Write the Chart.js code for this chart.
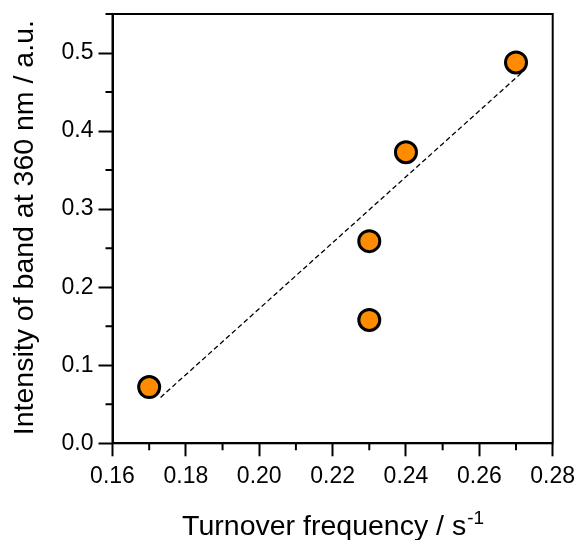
<!DOCTYPE html>
<html>
<head>
<meta charset="utf-8">
<style>
  html, body { margin: 0; padding: 0; background: #ffffff; }
  canvas { display: block; }
</style>
<script src="https://cdn.jsdelivr.net/npm/chart.js@4/dist/chart.umd.min.js"></script>
</head>
<body>
<canvas id="c" width="576" height="540"></canvas>
<script>
// ---- data ----
const turnoverFrequency = [0.17, 0.23, 0.23, 0.24, 0.27];
const bandIntensity     = [0.072, 0.259, 0.158, 0.373, 0.488];
const fitX = [0.1731, 0.2716];
const fitY = [0.0588, 0.475];
const xTitle = 'Turnover frequency / s';
const xTitleSup = '-1';
const yTitle = 'Intensity of band at 360 nm / a.u.';
const xRange = [0.16, 0.28], xStep = 0.02;
const yRange = [0.0, 0.55], yStep = 0.1;

const FONT = '"Liberation Sans", Arial, sans-serif';

const points = turnoverFrequency.map((x, i) => ({ x: x, y: bandIntensity[i] }));
const fitLine = fitX.map((x, i) => ({ x: x, y: fitY[i] }));

const framePlugin = {
  id: 'frameAndTitles',
  beforeDatasetsDraw(chart) {
    const ctx = chart.ctx, a = chart.chartArea;
    ctx.save();
    ctx.strokeStyle = '#000';
    ctx.lineWidth = 2;
    ctx.strokeRect(a.left, a.top, a.right - a.left, a.bottom - a.top);
    // minor ticks
    const minor = (scale, horizontal) => {
      const t = scale.ticks.map(k => k.value);
      const vals = [];
      for (let i = 0; i < t.length - 1; i++) vals.push((t[i] + t[i + 1]) / 2);
      const step = t[1] - t[0];
      const after = t[t.length - 1] + step / 2;
      if (after <= scale.max + 1e-9) vals.push(after);
      ctx.beginPath();
      vals.forEach(v => {
        const p = scale.getPixelForValue(v);
        if (horizontal) { ctx.moveTo(p, a.bottom); ctx.lineTo(p, a.bottom + 7); }
        else { ctx.moveTo(a.left, p); ctx.lineTo(a.left - 7, p); }
      });
      ctx.stroke();
    };
    minor(chart.scales.x, true);
    minor(chart.scales.y, false);
    ctx.restore();
  },
  afterDraw(chart) {
    const ctx = chart.ctx, a = chart.chartArea;
    ctx.save();
    ctx.fillStyle = '#000';
    // x title with superscript
    const mainFont = '28.5px ' + FONT, supFont = '19px ' + FONT;
    ctx.font = mainFont;
    const w1 = ctx.measureText(xTitle).width;
    ctx.font = supFont;
    const w2 = ctx.measureText(xTitleSup).width;
    const cx = (a.left + a.right) / 2;
    let sx = cx - (w1 + w2) / 2;
    ctx.textBaseline = 'alphabetic';
    ctx.textAlign = 'left';
    ctx.font = mainFont;
    ctx.fillText(xTitle, sx, 535);
    ctx.font = supFont;
    ctx.fillText(xTitleSup, sx + w1 + 1, 523.5);
    // y title
    ctx.translate(33.3, (a.top + a.bottom) / 2 - 1);
    ctx.rotate(-Math.PI / 2);
    ctx.font = mainFont;
    ctx.textAlign = 'center';
    ctx.fillText(yTitle, 0, 0);
    ctx.restore();
  }
};

new Chart(document.getElementById('c'), {
  type: 'scatter',
  data: {
    datasets: [
      {
        label: 'data',
        data: points,
        order: 0,
        pointRadius: 10.5,
        pointHoverRadius: 10.5,
        pointBackgroundColor: '#FF8C00',
        pointBorderColor: '#000000',
        pointBorderWidth: 3,
        showLine: false
      },
      {
        label: 'fit',
        data: fitLine,
        order: 1,
        showLine: true,
        pointRadius: 0,
        borderColor: '#000000',
        borderWidth: 1.3,
        borderDash: [5, 3],
        fill: false
      }
    ]
  },
  options: {
    responsive: false,
    devicePixelRatio: 1,
    animation: false,
    layout: { padding: { left: 0, top: 14, right: 23.3, bottom: 0 } },
    plugins: { legend: { display: false }, tooltip: { enabled: false } },
    scales: {
      x: {
        type: 'linear',
        min: xRange[0], max: xRange[1],
        afterFit(scale) {
          scale.height = 540 - 443.3;
          scale.paddingLeft = 0; scale.paddingRight = 0;
        },
        border: { display: true, color: '#000', width: 2 },
        grid: { display: true, drawOnChartArea: false, drawTicks: true, tickLength: 13, tickColor: '#000', tickWidth: 2 },
        ticks: {
          stepSize: xStep,
          color: '#000',
          padding: 6.5,
          maxRotation: 0,
          font: { family: FONT, size: 23 },
          callback: v => Number(v).toFixed(2)
        },
        title: { display: false }
      },
      y: {
        type: 'linear',
        min: yRange[0], max: yRange[1],
        afterFit(scale) {
          scale.width = 112.5;
          scale.paddingTop = 0; scale.paddingBottom = 0;
        },
        border: { display: true, color: '#000', width: 2 },
        grid: { display: true, drawOnChartArea: false, drawTicks: true, tickLength: 14, tickColor: '#000', tickWidth: 2 },
        ticks: {
          stepSize: yStep,
          includeBounds: false,
          color: '#000',
          padding: 5,
          font: { family: FONT, size: 23 },
          callback: v => Number(v).toFixed(1)
        },
        title: { display: false }
      }
    }
  },
  plugins: [framePlugin]
});
</script>
</body>
</html>
